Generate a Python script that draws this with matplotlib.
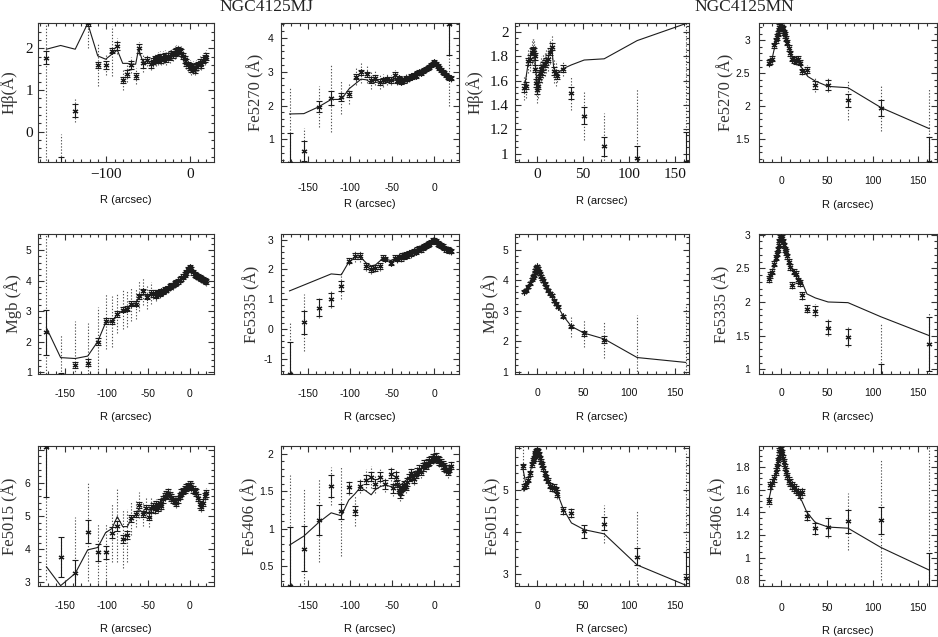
import numpy as np
import matplotlib
matplotlib.use("Agg")
import matplotlib.pyplot as plt
from matplotlib.ticker import MultipleLocator, FuncFormatter

SANS = "Liberation Sans"
SERIF = "Liberation Serif"
plt.rcParams['axes.unicode_minus'] = False

# ---------------- data ----------------
R_MJ_IN = [-44, -42, -40, -38, -36, -34, -32, -30, -28, -26, -24, -22, -20, -18, -16, -14, -12,
           -10, -8, -6, -4, -2, 0, 2, 4, 6, 8, 10, 12, 14, 16, 18, 20]
R_MN_IN = [-14, -12, -10, -8, -6, -5, -4, -3, -2, -1, 0, 1, 2, 3, 4, 5, 6, 8, 10, 12, 14, 16, 18, 20]

# Hbeta MJ
HB_MJ_R = [-172, -155, -137.5, -122.5, -110.5, -101, -93.5, -87, -80.5, -75, -70, -65, -61.5, -56, -51, -47]
HB_MJ_V = [1.78, -0.85, 0.50, 2.60, 1.60, 1.60, 1.94, 2.06, 1.24, 1.39, 1.60, 1.34, 2.00, 1.64, 1.72, 1.62]
HB_MJ_E = [0.16, 0.25, 0.16, 0.06, 0.08, 0.10, 0.06, 0.10, 0.08, 0.08, 0.10, 0.08, 0.10, 0.10, 0.08, 0.08]
HB_MJ_D = [3.0, 0.80, 0.28, 0.60, 0.50, 0.25, 0.60, 0.20, 0.25, 0.20, 0.20, 0.20, 0.15, 0.20, 0.15, 0.15]
HB_MJ_IN = [1.70, 1.74, 1.72, 1.76, 1.78, 1.74, 1.78, 1.80, 1.76, 1.82, 1.80, 1.86, 1.84, 1.90, 1.92, 1.96, 1.94,
            1.90, 1.82, 1.74, 1.66, 1.60, 1.56, 1.52, 1.54, 1.50, 1.56, 1.60, 1.66, 1.62, 1.72, 1.76, 1.80]
HB_MJ_MR = [-172, -155, -137.5, -122.5, -110.5, -101, -93.5, -87, -80.5, -75, -70, -65, -61.5, -56, -51, -47,
            -40, -30, -20, -15, -10, -5, 0, 5, 10, 15, 20]
HB_MJ_MV = [1.98, 2.07, 1.98, 2.60, 1.82, 1.74, 1.86, 1.96, 1.64, 1.64, 1.62, 1.62, 1.98, 1.66, 1.70, 1.64,
            1.72, 1.78, 1.84, 1.90, 1.86, 1.66, 1.56, 1.52, 1.60, 1.66, 1.78]

# Fe5270 MJ
FE5270_MJ_R = [-172, -155, -137.5, -122.5, -110.5, -101, -93.5, -87, -80.5, -75, -70, -65, -61.5, -56, -51, -47, 18]
FE5270_MJ_V = [0.30, 0.65, 1.97, 2.22, 2.24, 2.34, 2.85, 2.98, 2.92, 2.75, 2.82, 2.70, 2.74, 2.77, 2.75, 2.90, 4.40]
FE5270_MJ_E = [0.90, 0.30, 0.15, 0.20, 0.12, 0.10, 0.08, 0.08, 0.08, 0.08, 0.08, 0.08, 0.08, 0.08, 0.08, 0.08, 0.90]
FE5270_MJ_D = [2.25, 0.70, 0.60, 1.00, 0.50, 0.30, 0.25, 0.30, 0.25, 0.25, 0.20, 0.20, 0.20, 0.15, 0.15, 0.15, 2.40]
FE5270_MJ_IN = [2.72, 2.80, 2.70, 2.76, 2.74, 2.82, 2.78, 2.80, 2.86, 2.84, 2.90, 2.88, 2.95, 2.98, 2.96, 3.02, 3.05,
                3.08, 3.12, 3.15, 3.20, 3.24, 3.28, 3.22, 3.16, 3.10, 3.05, 3.00, 2.95, 2.90, 2.85, 2.82, 2.80]
FE5270_MJ_MR = [-172, -155, -137.5, -122.5, -110.5, -101, -93.5, -87, -80.5, -75, -70, -65, -61.5, -56, -51, -47,
                -40, -30, -20, -10, 0, 10, 20]
FE5270_MJ_MV = [1.75, 1.76, 1.96, 2.18, 2.18, 2.50, 2.65, 2.78, 2.76, 2.66, 2.68, 2.70, 2.70, 2.72, 2.72, 2.75,
                2.76, 2.82, 2.95, 3.08, 3.26, 3.00, 2.82]

# Mgb MJ
MGB_MJ_R = [-172, -155, -137.5, -122.5, -110.5, -101, -93.5, -87, -80.5, -75, -70, -65, -61.5, -56, -51, -47]
MGB_MJ_V = [2.30, 0.85, 1.24, 1.30, 2.00, 2.66, 2.66, 2.92, 3.05, 3.08, 3.24, 3.24, 3.49, 3.65, 3.47, 3.60]
MGB_MJ_E = [0.75, 0.12, 0.10, 0.12, 0.12, 0.10, 0.10, 0.10, 0.08, 0.08, 0.08, 0.08, 0.08, 0.08, 0.08, 0.08]
MGB_MJ_D = [3.5, 1.38, 1.45, 1.30, 1.15, 0.90, 0.85, 0.65, 0.65, 0.60, 0.55, 0.50, 0.50, 0.45, 0.40, 0.35]
MGB_MJ_IN = [3.55, 3.60, 3.50, 3.62, 3.58, 3.66, 3.64, 3.72, 3.70, 3.76, 3.80, 3.84, 3.86, 3.92, 3.95, 3.98, 4.04,
             4.08, 4.14, 4.20, 4.28, 4.38, 4.45, 4.36, 4.28, 4.22, 4.18, 4.14, 4.10, 4.08, 4.05, 4.02, 3.98]
MGB_MJ_MR = [-172, -155, -137.5, -122.5, -110.5, -101, -93.5, -87, -80.5, -75, -70, -65, -61.5, -56, -51, -47,
             -40, -30, -20, -10, 0, 10, 20]
MGB_MJ_MV = [2.45, 1.47, 1.44, 1.52, 2.00, 2.62, 2.66, 2.90, 3.02, 3.08, 3.20, 3.26, 3.42, 3.55, 3.50, 3.58,
             3.60, 3.72, 3.86, 4.08, 4.45, 4.14, 3.98]

# Fe5335 MJ
FE5335_MJ_R = [-172, -155, -137.5, -122.5, -110.5, -101.6, -94.5, -87.7, -81, -75, -70, -64, -61.5, -58, -52, -47]
FE5335_MJ_V = [-1.50, 0.22, 0.72, 1.00, 1.45, 2.30, 2.44, 2.44, 2.10, 2.00, 2.05, 2.10, 2.40, 2.35, 2.22, 2.40]
FE5335_MJ_E = [1.05, 0.40, 0.28, 0.22, 0.17, 0.10, 0.10, 0.10, 0.10, 0.10, 0.10, 0.10, 0.08, 0.08, 0.08, 0.08]
FE5335_MJ_D = [1.70, 0.95, 0.35, 0.30, 0.45, 0.15, 0.20, 0.20, 0.15, 0.15, 0.15, 0.15, 0.10, 0.10, 0.10, 0.10]
FE5335_MJ_IN = [2.35, 2.42, 2.38, 2.46, 2.44, 2.50, 2.48, 2.55, 2.52, 2.58, 2.62, 2.60, 2.66, 2.70, 2.68, 2.74, 2.78,
                2.80, 2.84, 2.88, 2.92, 2.96, 2.98, 2.94, 2.88, 2.84, 2.80, 2.76, 2.72, 2.68, 2.66, 2.64, 2.62]
FE5335_MJ_MR = [-172, -122.5, -110.5, -101.6, -94.5, -87.7, -81, -75, -70, -64, -61.5, -58, -52, -47,
                -40, -30, -20, -10, 0, 10, 20]
FE5335_MJ_MV = [1.28, 1.85, 1.82, 2.25, 2.40, 2.42, 2.22, 2.12, 2.15, 2.30, 2.38, 2.35, 2.30, 2.36,
                2.40, 2.52, 2.66, 2.80, 2.96, 2.76, 2.62]

# Fe5015 MJ
FE5015_MJ_R = [-172, -155, -137.5, -122.5, -110.5, -101, -93.5, -87, -80.5, -75, -70, -65, -61.5, -56, -52.5, -49.5, -46]
FE5015_MJ_V = [7.08, 3.77, 3.27, 4.53, 3.90, 3.90, 4.50, 4.70, 4.32, 4.42, 4.93, 5.06, 5.33, 5.06, 5.23, 4.98, 5.23]
FE5015_MJ_E = [1.50, 0.60, 0.40, 0.35, 0.25, 0.20, 0.17, 0.15, 0.12, 0.12, 0.10, 0.10, 0.10, 0.10, 0.10, 0.10, 0.10]
FE5015_MJ_D = [4.0, 0.60, 1.70, 1.50, 0.90, 0.90, 0.90, 1.10, 0.90, 0.80, 0.50, 0.40, 0.40, 0.35, 0.30, 0.30, 0.30]
FE5015_MJ_IN = [5.30, 5.20, 5.35, 5.25, 5.40, 5.30, 5.50, 5.60, 5.65, 5.70, 5.62, 5.55, 5.50, 5.45, 5.40, 5.50, 5.60,
                5.70, 5.75, 5.80, 5.85, 5.90, 5.95, 5.88, 5.80, 5.75, 5.70, 5.55, 5.35, 5.28, 5.40, 5.60, 5.68]
FE5015_MJ_MR = [-172, -155, -137.5, -122.5, -110.5, -101, -93.5, -87, -80.5, -75, -70, -65, -61.5, -56, -50, -45,
                -40, -30, -25, -20, -15, -10, -5, 0, 5, 10, 14, 18]
FE5015_MJ_MV = [3.47, 2.90, 3.27, 3.98, 4.05, 4.50, 4.62, 4.98, 4.68, 4.68, 4.92, 5.02, 5.20, 5.10, 5.10, 5.20,
                5.25, 5.55, 5.65, 5.50, 5.45, 5.65, 5.80, 5.92, 5.75, 5.55, 5.30, 5.60]

# Fe5406 MJ
FE5406_MJ_R = [-172, -155, -137.5, -122.5, -110.5, -101.6, -94.5, -87.7, -81, -75, -70, -64, -58, -52, -49, -45, -41]
FE5406_MJ_V = [0.24, 0.73, 1.11, 1.57, 1.23, 1.55, 1.24, 1.57, 1.65, 1.69, 1.60, 1.69, 1.59, 1.73, 1.54, 1.69, 1.47]
FE5406_MJ_E = [0.78, 0.30, 0.20, 0.15, 0.10, 0.07, 0.06, 0.06, 0.06, 0.06, 0.06, 0.06, 0.06, 0.06, 0.06, 0.06, 0.06]
FE5406_MJ_D = [1.47, 0.80, 0.55, 0.25, 0.60, 0.10, 0.20, 0.10, 0.15, 0.15, 0.12, 0.12, 0.10, 0.10, 0.10, 0.10, 0.10]
FE5406_MJ_IN = [1.60, 1.52, 1.50, 1.55, 1.58, 1.56, 1.62, 1.68, 1.74, 1.70, 1.66, 1.72, 1.76, 1.80, 1.76, 1.82, 1.86,
                1.84, 1.88, 1.90, 1.92, 1.94, 1.95, 1.96, 1.92, 1.90, 1.88, 1.85, 1.82, 1.80, 1.76, 1.80, 1.84]
FE5406_MJ_MR = [-172, -155, -137.5, -122.5, -110.5, -101.6, -94.5, -87.7, -81, -75, -70, -64, -58, -52, -45,
                -40, -30, -20, -10, 0, 10, 20]
FE5406_MJ_MV = [0.78, 0.90, 1.08, 1.21, 1.17, 1.38, 1.46, 1.55, 1.50, 1.45, 1.52, 1.56, 1.58, 1.56, 1.58,
                1.58, 1.68, 1.76, 1.86, 1.94, 1.86, 1.82]

# Hbeta MN
HB_MN_R = [22, 28.5, 37.3, 51.2, 73, 109, 162]
HB_MN_V = [1.64, 1.70, 1.50, 1.31, 1.06, 0.96, 0.93]
HB_MN_E = [0.03, 0.03, 0.05, 0.07, 0.08, 0.10, 0.25]
HB_MN_D = [0.05, 0.06, 0.14, 0.20, 0.27, 0.57, 1.30]
HB_MN_IN = [1.54, 1.56, 1.76, 1.78, 1.84, 1.85, 1.84, 1.80, 1.70, 1.58, 1.52, 1.56, 1.62, 1.66, 1.70, 1.68,
            1.72, 1.74, 1.76, 1.78, 1.84, 1.88, 1.68, 1.66]
HB_MN_MR = [-14, -10, -6, -3, 0, 3, 6, 10, 14, 16, 18, 22, 28.5, 37.3, 51.2, 73, 109, 162]
HB_MN_MV = [1.54, 1.74, 1.84, 1.80, 1.56, 1.64, 1.70, 1.74, 1.84, 1.86, 1.70, 1.66, 1.70, 1.73, 1.77, 1.78, 1.93, 2.07]

# Fe5270 MN
FE5270_MN_R = [22.5, 27.6, 37.3, 51.2, 73, 109, 162]
FE5270_MN_V = [2.53, 2.55, 2.32, 2.32, 2.09, 1.97, 1.16]
FE5270_MN_E = [0.04, 0.05, 0.06, 0.07, 0.10, 0.12, 0.38]
FE5270_MN_D = [0.06, 0.08, 0.10, 0.10, 0.30, 0.35, 1.10]
FE5270_MN_IN = [2.66, 2.68, 2.72, 2.92, 3.00, 3.05, 3.10, 3.15, 3.20, 3.23, 3.24, 3.22, 3.18, 3.12, 3.08, 3.02,
                2.96, 2.88, 2.80, 2.72, 2.70, 2.68, 2.72, 2.66]
FE5270_MN_MR = [-14, -10, -6, -3, 0, 3, 6, 10, 14, 18, 22.5, 29, 37.3, 51.2, 73, 109, 162]
FE5270_MN_MV = [2.64, 2.72, 2.98, 3.14, 3.22, 3.12, 2.96, 2.80, 2.70, 2.70, 2.58, 2.45, 2.38, 2.30, 2.28, 1.98, 1.66]

# Mgb MN
MGB_MN_R = [22.5, 28.5, 37.3, 51.2, 73, 109, 162]
MGB_MN_V = [3.12, 2.82, 2.48, 2.25, 2.05, 0.75, 0.75]
MGB_MN_E = [0.05, 0.05, 0.06, 0.08, 0.10, 0.10, 0.10]
MGB_MN_D = [0.10, 0.10, 0.35, 0.45, 0.60, 2.10, 2.45]
MGB_MN_IN = [3.62, 3.66, 3.78, 3.90, 4.02, 4.10, 4.16, 4.24, 4.32, 4.40, 4.45, 4.38, 4.28, 4.20, 4.12, 4.05,
             3.98, 3.88, 3.78, 3.66, 3.56, 3.50, 3.32, 3.22]
MGB_MN_MR = [-14, -10, -6, -3, 0, 3, 6, 10, 14, 18, 22.5, 28.5, 37.3, 51.2, 73, 109, 162]
MGB_MN_MV = [3.62, 3.78, 4.02, 4.24, 4.45, 4.20, 3.98, 3.78, 3.56, 3.34, 3.12, 2.82, 2.48, 2.26, 2.07, 1.46, 1.30]

# Fe5335 MN
FE5335_MN_R = [22.5, 28, 37.3, 51.2, 73, 109, 162]
FE5335_MN_V = [2.10, 1.90, 1.87, 1.62, 1.48, 0.55, 1.38]
FE5335_MN_E = [0.05, 0.05, 0.07, 0.10, 0.12, 0.53, 0.40]
FE5335_MN_D = [0.07, 0.07, 0.10, 0.12, 0.15, 1.12, 0.45]
FE5335_MN_IN = [2.34, 2.40, 2.45, 2.57, 2.66, 2.72, 2.78, 2.85, 2.90, 2.95, 2.97, 2.95, 2.90, 2.84, 2.78, 2.74,
                2.68, 2.60, 2.52, 2.25, 2.45, 2.42, 2.32, 2.28]
FE5335_MN_MR = [-14, -10, -6, -3, 0, 3, 6, 10, 14, 18, 22.5, 28, 37.3, 51.2, 73, 109, 162]
FE5335_MN_MV = [2.34, 2.45, 2.66, 2.85, 2.96, 2.84, 2.68, 2.54, 2.46, 2.38, 2.30, 2.12, 2.06, 2.00, 1.99, 1.78, 1.50]

# Fe5015 MN
FE5015_MN_R = [-16, 22, 28.5, 37.3, 51.2, 73, 109, 162]
FE5015_MN_V = [5.57, 4.92, 4.52, 4.45, 4.02, 4.20, 3.42, 2.92]
FE5015_MN_E = [0.06, 0.08, 0.08, 0.10, 0.15, 0.15, 0.20, 0.60]
FE5015_MN_D = [0.60, 0.12, 0.10, 0.12, 0.15, 0.45, 1.10, 3.00]
FE5015_MN_IN = [5.08, 5.12, 5.25, 5.40, 5.62, 5.70, 5.76, 5.82, 5.88, 5.92, 5.95, 5.92, 5.85, 5.76, 5.68, 5.60,
                5.52, 5.40, 5.30, 5.22, 5.10, 5.05, 5.08, 5.02]
FE5015_MN_MR = [-16, -12, -8, -4, 0, 4, 8, 12, 16, 20, 22, 28.5, 37.3, 51.2, 73, 109, 162]
FE5015_MN_MV = [5.55, 5.10, 5.40, 5.76, 5.92, 5.68, 5.40, 5.22, 5.05, 5.00, 4.92, 4.55, 4.22, 4.06, 3.96, 3.22, 2.74]

# Fe5406 MN
FE5406_MN_R = [22.5, 28, 37.3, 51.2, 73, 109, 162]
FE5406_MN_V = [1.58, 1.37, 1.26, 1.27, 1.32, 1.33, 0.72]
FE5406_MN_E = [0.03, 0.04, 0.05, 0.08, 0.10, 0.12, 0.32]
FE5406_MN_D = [0.05, 0.05, 0.06, 0.10, 0.25, 0.53, 1.30]
FE5406_MN_IN = [1.50, 1.64, 1.66, 1.70, 1.76, 1.80, 1.85, 1.90, 1.94, 1.96, 1.95, 1.92, 1.88, 1.84, 1.80, 1.76,
                1.72, 1.68, 1.66, 1.64, 1.62, 1.60, 1.58, 1.56]
FE5406_MN_MR = [-14, -10, -6, -3, 0, 3, 6, 10, 14, 18, 22.5, 28, 37.3, 51.2, 73, 109, 162]
FE5406_MN_MV = [1.50, 1.64, 1.74, 1.88, 1.93, 1.82, 1.72, 1.64, 1.60, 1.56, 1.50, 1.40, 1.31, 1.27, 1.26, 1.09, 0.89]

TITLES = ["NGC4125MJ", "NGC4125MN"]
XLABEL = "R (arcsec)"

# ---------------- layout ----------------
W, H = 938, 637
COLS = [(37.7, 214.0), (280.7, 458.7), (515.0, 689.0), (759.0, 937.0)]
ROWS = [(23.0, 162.0), (234.0, 374.0), (446.0, 586.0)]
XLIM_MJ = (-182.5, 29)
XLIM_MN = [(-24.3, 165.6), (-24.4, 170.4)]

fig = plt.figure(figsize=(W / 100, H / 100), dpi=100)
INK = "#1c1c1c"


def make_fmt(hide, serif):
    def f(v, pos):
        if abs(v) < 1e-9:
            v = 0.0
        for h in hide:
            if abs(v - h) < 1e-6:
                return ""
        s = "%g" % v
        if serif:
            s = s.replace("-", "\u2212")
        return s
    return FuncFormatter(f)


panels = [
    dict(row=0, col=0, r=HB_MJ_R, v=HB_MJ_V, e=HB_MJ_E, d=HB_MJ_D, ri=R_MJ_IN, vi=HB_MJ_IN, ei=0.08, di=0.15,
         mr=HB_MJ_MR, mv=HB_MJ_MV, yl="H\u03b2(\u00c5)", ylim=(-0.73, 2.61), ymaj=1, ymin=0.2, serif=True,
         xmaj=100, ylx=-0.165, xpad=4.5, ypad=3.5, xlo=38, hide=[]),
    dict(row=0, col=1, r=FE5270_MJ_R, v=FE5270_MJ_V, e=FE5270_MJ_E, d=FE5270_MJ_D, ri=R_MJ_IN, vi=FE5270_MJ_IN,
         ei=0.06, di=0.10, mr=FE5270_MJ_MR, mv=FE5270_MJ_MV, yl="Fe5270 (\u00c5)", ylim=(0.33, 4.44), ymaj=1,
         ymin=0.2, serif=False, xmaj=50, ylx=-0.14, xpad=15, ypad=5, xlo=42, hide=[]),
    dict(row=0, col=2, r=HB_MN_R, v=HB_MN_V, e=HB_MN_E, d=HB_MN_D, ri=R_MN_IN, vi=HB_MN_IN, ei=0.03, di=0.10,
         mr=HB_MN_MR, mv=HB_MN_MV, yl="H\u03b2(\u00c5)", ylim=(0.93, 2.075), ymaj=0.2, ymin=0.05, serif=True,
         xmaj=50, ylx=-0.235, xpad=4.5, ypad=4.5, xlo=39, hide=[]),
    dict(row=0, col=3, r=FE5270_MN_R, v=FE5270_MN_V, e=FE5270_MN_E, d=FE5270_MN_D, ri=R_MN_IN, vi=FE5270_MN_IN,
         ei=0.04, di=0.06, mr=FE5270_MN_MR, mv=FE5270_MN_MV, yl="Fe5270 (\u00c5)", ylim=(1.155, 3.26), ymaj=0.5,
         ymin=0.1, serif=False, xmaj=50, ylx=-0.19, xpad=10, ypad=6.5, xlo=43, hide=[]),
    dict(row=1, col=0, r=MGB_MJ_R, v=MGB_MJ_V, e=MGB_MJ_E, d=MGB_MJ_D, ri=R_MJ_IN, vi=MGB_MJ_IN, ei=0.08, di=0.15,
         mr=MGB_MJ_MR, mv=MGB_MJ_MV, yl="Mgb (\u00c5)", ylim=(0.93, 5.54), ymaj=1, ymin=0.2, serif=False,
         xmaj=50, ylx=-0.142, xpad=11, ypad=4.3, xlo=43, hide=[]),
    dict(row=1, col=1, r=FE5335_MJ_R, v=FE5335_MJ_V, e=FE5335_MJ_E, d=FE5335_MJ_D, ri=R_MJ_IN, vi=FE5335_MJ_IN,
         ei=0.08, di=0.12, mr=FE5335_MJ_MR, mv=FE5335_MJ_MV, yl="Fe5335 (\u00c5)", ylim=(-1.51, 3.19), ymaj=1,
         ymin=0.2, serif=False, xmaj=50, ylx=-0.165, xpad=11, ypad=5.5, xlo=43, hide=[]),
    dict(row=1, col=2, r=MGB_MN_R, v=MGB_MN_V, e=MGB_MN_E, d=MGB_MN_D, ri=R_MN_IN, vi=MGB_MN_IN, ei=0.05, di=0.10,
         mr=MGB_MN_MR, mv=MGB_MN_MV, yl="Mgb (\u00c5)", ylim=(0.92, 5.51), ymaj=1, ymin=0.2, serif=False,
         xmaj=50, ylx=-0.144, xpad=10, ypad=5, xlo=43, hide=[]),
    dict(row=1, col=3, r=FE5335_MN_R, v=FE5335_MN_V, e=FE5335_MN_E, d=FE5335_MN_D, ri=R_MN_IN, vi=FE5335_MN_IN,
         ei=0.04, di=0.06, mr=FE5335_MN_MR, mv=FE5335_MN_MV, yl="Fe5335 (\u00c5)", ylim=(0.93, 3.01), ymaj=0.5,
         ymin=0.1, serif=False, xmaj=50, ylx=-0.21, xpad=10, ypad=6.5, xlo=43, hide=[]),
    dict(row=2, col=0, r=FE5015_MJ_R, v=FE5015_MJ_V, e=FE5015_MJ_E, d=FE5015_MJ_D, ri=R_MJ_IN, vi=FE5015_MJ_IN,
         ei=0.10, di=0.15, mr=FE5015_MJ_MR, mv=FE5015_MJ_MV, yl="Fe5015 (\u00c5)", ylim=(2.89, 7.11), ymaj=1,
         ymin=0.2, serif=False, xmaj=50, ylx=-0.157, xpad=11, ypad=5.5, xlo=43, hide=[7]),
    dict(row=2, col=1, r=FE5406_MJ_R, v=FE5406_MJ_V, e=FE5406_MJ_E, d=FE5406_MJ_D, ri=R_MJ_IN, vi=FE5406_MJ_IN,
         ei=0.05, di=0.08, mr=FE5406_MJ_MR, mv=FE5406_MJ_MV, yl="Fe5406 (\u00c5)", ylim=(0.235, 2.1), ymaj=0.5,
         ymin=0.1, serif=False, xmaj=50, ylx=-0.175, xpad=11, ypad=5, xlo=43, hide=[]),
    dict(row=2, col=2, r=FE5015_MN_R, v=FE5015_MN_V, e=FE5015_MN_E, d=FE5015_MN_D, ri=R_MN_IN, vi=FE5015_MN_IN,
         ei=0.06, di=0.10, mr=FE5015_MN_MR, mv=FE5015_MN_MV, yl="Fe5015 (\u00c5)", ylim=(2.72, 6.05), ymaj=1,
         ymin=0.2, serif=False, xmaj=50, ylx=-0.126, xpad=11, ypad=4.5, xlo=43, hide=[6]),
    dict(row=2, col=3, r=FE5406_MN_R, v=FE5406_MN_V, e=FE5406_MN_E, d=FE5406_MN_D, ri=R_MN_IN, vi=FE5406_MN_IN,
         ei=0.03, di=0.05, mr=FE5406_MN_MR, mv=FE5406_MN_MV, yl="Fe5406 (\u00c5)", ylim=(0.75, 1.985), ymaj=0.2,
         ymin=0.05, serif=False, xmaj=50, ylx=-0.23, xpad=12, ypad=6.5, xlo=45, hide=[]),
]

for p in panels:
    c0, c1 = COLS[p["col"]]
    r0, r1 = ROWS[p["row"]]
    ax = fig.add_axes([c0 / W, 1 - r1 / H, (c1 - c0) / W, (r1 - r0) / H])
    n_in = len(p["ri"])
    r = np.concatenate([np.asarray(p["r"], float), np.asarray(p["ri"], float)])
    v = np.concatenate([np.asarray(p["v"], float), np.asarray(p["vi"], float)])
    e = np.concatenate([np.asarray(p["e"], float), np.full(n_in, p["ei"])])
    d = np.concatenate([np.asarray(p["d"], float), np.full(n_in, p["di"])])

    ax.vlines(r, v - d, v + d, colors="#555555", linestyles=(0, (1.2, 1.6)), linewidth=0.8, zorder=1)
    ax.errorbar(r, v, yerr=e, fmt="none", ecolor=INK, elinewidth=0.8, capsize=2.2, capthick=0.8, zorder=2)
    ax.plot(r, v, ls="none", marker=(6, 2, 0), ms=4.2, mec=INK, mfc=INK, mew=0.8, zorder=3)
    ax.plot(p["mr"], p["mv"], color=INK, lw=0.8, zorder=4)

    ax.set_xlim(*(XLIM_MJ if p["col"] < 2 else XLIM_MN[p["col"] - 2]))
    ax.set_ylim(*p["ylim"])
    ax.xaxis.set_major_locator(MultipleLocator(p["xmaj"]))
    ax.xaxis.set_minor_locator(MultipleLocator(10))
    ax.yaxis.set_major_locator(MultipleLocator(p["ymaj"]))
    ax.yaxis.set_minor_locator(MultipleLocator(p["ymin"]))
    ax.xaxis.set_major_formatter(make_fmt([], p["serif"]))
    ax.yaxis.set_major_formatter(make_fmt(p["hide"], p["serif"]))

    fam = SERIF if p["serif"] else SANS
    fs = 11 if p["serif"] else 7.5
    ax.tick_params(which="both", direction="in", top=True, right=True, color="#333333", width=0.8,
                   labelsize=fs, labelfontfamily=fam, labelcolor="#111111")
    ax.tick_params(which="major", length=4.5)
    ax.tick_params(which="minor", length=2.2)
    ax.tick_params(axis="x", which="major", pad=p["xpad"])
    ax.tick_params(axis="y", which="major", pad=p["ypad"])
    for s in ax.spines.values():
        s.set_linewidth(0.8)
        s.set_color("#333333")

    ax.set_ylabel(p["yl"], fontfamily=SERIF, fontsize=12, color="#333333", va="center", ha="center")
    ax.yaxis.set_label_coords(p["ylx"], 0.5)
    h = r1 - r0
    ax.set_xlabel(XLABEL, fontfamily=SANS, fontsize=8, color="#111111", va="center", ha="center")
    ax.xaxis.set_label_coords(0.5, -p["xlo"] / h)

fig.text(266 / W, 1 - 7 / H, TITLES[0], fontfamily=SERIF, fontsize=12.5, ha="center", va="center", color="#222222")
fig.text(744 / W, 1 - 7 / H, TITLES[1], fontfamily=SERIF, fontsize=12.5, ha="center", va="center", color="#222222")

fig.savefig("out.png", dpi=100)
